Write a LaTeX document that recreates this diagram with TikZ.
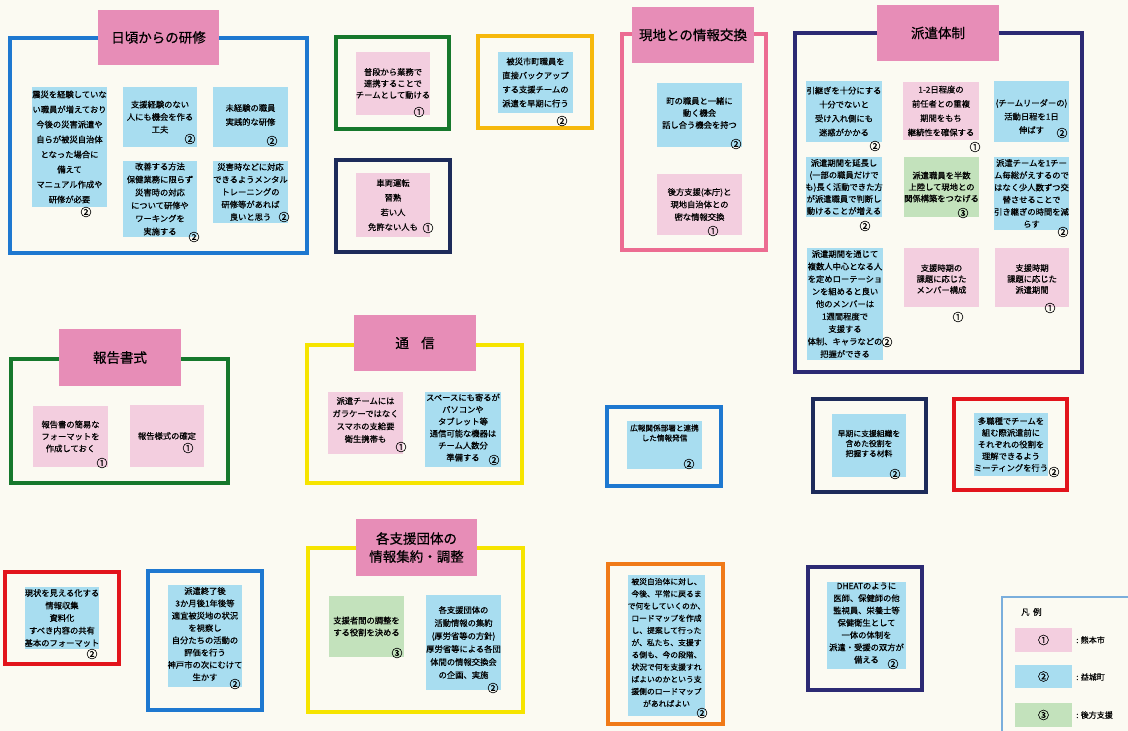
\documentclass[tikz,border=0pt]{standalone}
\usepackage{fontspec}
\setmainfont{Noto Sans CJK JP}[FakeBold=0.6]
\usetikzlibrary{fit}

\definecolor{paper}{HTML}{FBFAF2}
\definecolor{npink}{HTML}{F3CEDF}
\definecolor{nblue}{HTML}{A8DDF0}
\definecolor{ngreen}{HTML}{C3E2BC}
\definecolor{tpink}{HTML}{E78DB7}
\definecolor{fblue}{HTML}{1E78D0}
\definecolor{fgreen}{HTML}{16782C}
\definecolor{fgold}{HTML}{F6B80C}
\definecolor{fnavy}{HTML}{1D2B5A}
\definecolor{fpink}{HTML}{EC6C92}
\definecolor{fpurple}{HTML}{2C2A74}
\definecolor{fyellow}{HTML}{F6E400}
\definecolor{forange}{HTML}{F07A18}
\definecolor{fred}{HTML}{E2141C}
\definecolor{flegend}{HTML}{7AAEDC}

\tikzset{
  waku/.style={line width=3.2pt, inner sep=0pt},
  sticky/.style={inner sep=0pt},
  ftext/.style={inner sep=0pt, align=center, font=\fontsize{8.3}{12.5}\selectfont},
  sp/.style={font=\fontsize{8.3}{#1}\selectfont},
  mk/.style={inner sep=0pt, font=\fontsize{11}{11}\selectfont},
  midashi/.style={fill=tpink, inner sep=0pt},
  mtext/.style={inner sep=0pt, align=center, font=\fontsize{13.5}{18}\selectfont},
}

% frame: name, colour, corner, corner
\newcommand\waku[4]{\node[waku, draw=#2, fit={#3 #4}] (#1) {};}
% heading: name, corner, corner, text
\newcommand\midashi[4]{%
  \node[midashi, fit={#2 #3}] (#1) {};
  \node[mtext] (#1t) at (#1.center) {#4};}
% sticky note: name, fill, corner, corner, text options, text, mark position, mark
\newcommand\fusen[8]{%
  \node[sticky, fill=#2, fit={#3 #4}] (#1) {};
  \node[ftext, #5] (#1t) at (#1.center) {#6};
  \node[mk] (#1m) at #7 {#8};}

\begin{document}
\begin{tikzpicture}[x=1pt, y=-1pt]
\useasboundingbox (0,0) rectangle (1128,731);
\fill[paper] (0,0) rectangle (1128,731);

% ---- 日頃からの研修
\waku{A}{fblue}{(10,38)}{(307,253)}
\midashi{At}{(98,10)}{(219,65)}{日頃からの研修}
\fusen{a1}{nblue}{(32,87)}{(107,207)}{sp=15}{震災を経験していな\\い職員が増えており\\今後の災害派遣や\\自らが被災自治体\\となった場合に\\備えて\\マニュアル作成や\\研修が必要}{(86,212)}{②}
\fusen{a2}{nblue}{(123,87)}{(197,147)}{}{支援経験のない\\人にも機会を作る\\工夫}{(190,139)}{②}
\fusen{a3}{nblue}{(213,87)}{(288,147)}{sp=14, yshift=2}{未経験の職員\\実践的な研修}{(272,141)}{②}
\fusen{a4}{nblue}{(123,161)}{(197,237)}{sp=13}{改善する方法\\保健業務に限らず\\災害時の対応\\について研修や\\ワーキングを\\実施する}{(194,237)}{②}
\fusen{a5}{nblue}{(213,161)}{(288,223)}{}{災害時などに対応\\できるようメンタル\\トレーニングの\\研修等があれば\\良いと思う}{(284,217)}{②}

% ---- single notes, upper middle
\waku{B}{fgreen}{(336,37)}{(449,129)}
\fusen{b1}{npink}{(356,52)}{(430,115)}{sp=11.5}{普段から業務で\\連携することで\\チームとして動ける}{(419,112)}{①}
\waku{C}{fgold}{(478,36)}{(592,128)}
\fusen{c1}{nblue}{(498,52)}{(573,113)}{sp=14}{被災市町職員を\\直接バックアップ\\する支援チームの\\派遣を早期に行う}{(562,121)}{②}
\waku{D}{fnavy}{(336,160)}{(450,252)}
\fusen{d1}{npink}{(356,173)}{(430,237)}{sp=14.7}{車両運転\\習熟\\若い人\\免許ない人も}{(428,228)}{①}

% ---- 現地との情報交換
\waku{E}{fpink}{(622,34)}{(766,250)}
\midashi{Et}{(632,7)}{(754,63)}{現地との情報交換}
\fusen{e1}{nblue}{(657,83)}{(742,147)}{sp=12, yshift=2}{町の職員と一緒に\\動く機会\\話し合う機会を持つ}{(736,144)}{②}
\fusen{e2}{npink}{(657,174)}{(742,235)}{}{後方支援(本庁)と\\現地自治体との\\密な情報交換}{(713,231)}{①}

% ---- 派遣体制
\waku{F}{fpurple}{(795,33)}{(1082,372)}
\midashi{Ft}{(877,5)}{(999,61)}{派遣体制}
\fusen{f1}{nblue}{(806,81)}{(882,142)}{sp=14}{引継ぎを十分にする\\十分でないと\\受け入れ側にも\\迷惑がかかる}{(875,146)}{②}
\fusen{f2}{npink}{(903,82)}{(979,140)}{sp=14.3}{1-2日程度の\\前任者との重複\\期間をもち\\継続性を確保する}{(975,147)}{①}
\fusen{f3}{nblue}{(994,81)}{(1069,142)}{sp=13.5, yshift=-5}{(チームリーダーの)\\活動日程を1日\\伸ばす}{(1062,133)}{②}
\fusen{f4}{nblue}{(806,157)}{(882,217)}{sp=12}{派遣期間を延長し\\(一部の職員だけで\\も)長く活動できた方\\が派遣職員で判断し\\動けることが増える}{(865,226)}{②}
\fusen{f5}{ngreen}{(904,157)}{(979,217)}{sp=11.5}{派遣職員を半数\\上陸して現地との\\関係構築をつなげる}{(963,213)}{③}
\fusen{f6}{nblue}{(994,157)}{(1069,230)}{sp=12.2}{派遣チームを1チー\\ム毎総がえするので\\はなく少人数ずつ交\\替させることで\\引き継ぎの時間を減\\らす}{(1063,232)}{②}
\fusen{f7}{nblue}{(807,248)}{(883,360)}{sp=12.5}{派遣期間を通じて\\複数人中心となる人\\を定めローテーショ\\ンを組めると良い\\他のメンバーは\\1週間程度で\\支援する\\体制、キャラなどの\\把握ができる}{(887,342)}{②}
\fusen{f8}{npink}{(904,248)}{(979,307)}{sp=11, yshift=-1.5}{支援時期の\\課題に応じた\\メンバー構成}{(958,317)}{①}
\fusen{f9}{npink}{(995,248)}{(1069,307)}{sp=11, yshift=-1.5}{支援時期\\課題に応じた\\派遣期間}{(1050,308)}{①}

% ---- 報告書式
\waku{G}{fgreen}{(11,359)}{(228,483)}
\midashi{Gt}{(59,329)}{(181,386)}{報告書式}
\fusen{g1}{npink}{(33,406)}{(108,467)}{sp=12}{報告書の簡易な\\フォーマットを\\作成しておく}{(102,463)}{①}
\fusen{g2}{npink}{(130,405)}{(204,467)}{}{報告様式の確定}{(188,448)}{①}

% ---- 通信
\waku{H}{fyellow}{(307,345)}{(522,483)}
\midashi{Ht}{(354,315)}{(476,371)}{通\hspace{0.9em}信}
\fusen{h1}{npink}{(328,392)}{(403,454)}{sp=12.7, yshift=3}{派遣チームには\\ガラケーではなく\\スマホの支給要\\衛生携帯も}{(401,447)}{①}
\fusen{h2}{nblue}{(425,392)}{(501,467)}{sp=12, yshift=2}{スペースにも寄るが\\パソコンや\\タブレット等\\通信可能な機器は\\チーム人数分\\準備する}{(494,460)}{②}

% ---- single notes, middle row
\waku{I}{fblue}{(607,407)}{(721,486)}
\fusen{i1}{nblue}{(627,421)}{(702,469)}{font=\fontsize{7.6}{10}\selectfont, yshift=12}{広報関係部署と連携\\した情報発信}{(689,464)}{②}
\waku{J}{fnavy}{(813,399)}{(926,492)}
\fusen{j1}{nblue}{(832,414)}{(906,477)}{font=\fontsize{7.8}{10}\selectfont, yshift=2}{早期に支援組織を\\含めた役割を\\把握する材料}{(895,474)}{②}
\waku{K}{fred}{(954,399)}{(1067,490)}
\fusen{k1}{nblue}{(974,413)}{(1048,476)}{sp=11.7}{多職種でチームを\\組む際派遣前に\\それぞれの役割を\\理解できるよう\\ミーティングを行う}{(1054,472)}{②}

% ---- lower left notes
\waku{L}{fred}{(5,572)}{(119,664)}
\fusen{l1}{nblue}{(25,587)}{(99,649)}{}{現状を見える化する\\情報収集\\資料化\\すべき内容の共有\\基本のフォーマット}{(92,654)}{②}
\waku{M}{fblue}{(148,571)}{(262,710)}
\fusen{m1}{nblue}{(168,585)}{(242,687)}{sp=12.3, yshift=2}{派遣終了後\\3か月後1年後等\\適宜被災地の状況\\を視察し\\自分たちの活動の\\評価を行う\\神戸市の次にむけて\\生かす}{(235,684)}{②}

% ---- 各支援団体の情報集約・調整
\waku{N}{fyellow}{(308,548)}{(523,712)}
\midashi{Nt}{(356,519)}{(477,576)}{各支援団体の\\情報集約・調整}
\fusen{n1}{ngreen}{(329,596)}{(404,657)}{sp=12}{支援者間の調整を\\する役割を決める}{(397,653)}{③}
\fusen{n2}{nblue}{(426,595)}{(501,690)}{sp=13}{各支援団体の\\活動情報の集約\\(厚労省等の方針)\\厚労省等による各団\\体間の情報交換会\\の企画、実施}{(493,688)}{②}

% ---- lower right notes
\waku{O}{forange}{(608,564)}{(723,724)}
\fusen{o1}{nblue}{(628,575)}{(705,716)}{font=\fontsize{7.8}{12.2}\selectfont, yshift=3}{被災自治体に対し、\\今後、平常に戻るま\\で何をしていくのか、\\ロードマップを作成\\し、提案して行った\\が、私たち、支援す\\る側も、今の段階、\\状況で何を支援すれ\\ばよいのかという支\\援側のロードマップ\\があればよい}{(702,713)}{②}
\waku{P}{fpurple}{(808,567)}{(922,690)}
\fusen{p1}{nblue}{(827,582)}{(906,669)}{sp=12.3, yshift=2.5}{DHEATのように\\医師、保健師の他\\監視員、栄養士等\\保健衛生として\\一体の体制を\\派遣・受援の双方が\\備える}{(893,664)}{②}

% ---- legend
\node[draw=flegend, line width=1.6pt, inner sep=0pt, fit={(1002,597) (1140,745)}] (legend) {};
\node[anchor=west, inner sep=0pt, font=\fontsize{8.5}{10}\selectfont] (legendt) at (1021,612) {凡\hspace{0.4em}例};
\node[sticky, fill=npink, fit={(1015,628) (1072,652)}] (s1) {};
\node[mk] (s1t) at (s1.center) {①};
\node[sticky, fill=nblue, fit={(1015,665) (1072,688)}] (s2) {};
\node[mk] (s2t) at (s2.center) {②};
\node[sticky, fill=ngreen, fit={(1015,703) (1072,727)}] (s3) {};
\node[mk] (s3t) at (s3.center) {③};
\node[anchor=west, inner sep=0pt, font=\fontsize{8}{10}\selectfont] (l1t) at (1076,640) {: 熊本市};
\node[anchor=west, inner sep=0pt, font=\fontsize{8}{10}\selectfont] (l2t) at (1076,677) {: 益城町};
\node[anchor=west, inner sep=0pt, font=\fontsize{8}{10}\selectfont] (l3t) at (1076,715) {: 後方支援};
\end{tikzpicture}
\end{document}
